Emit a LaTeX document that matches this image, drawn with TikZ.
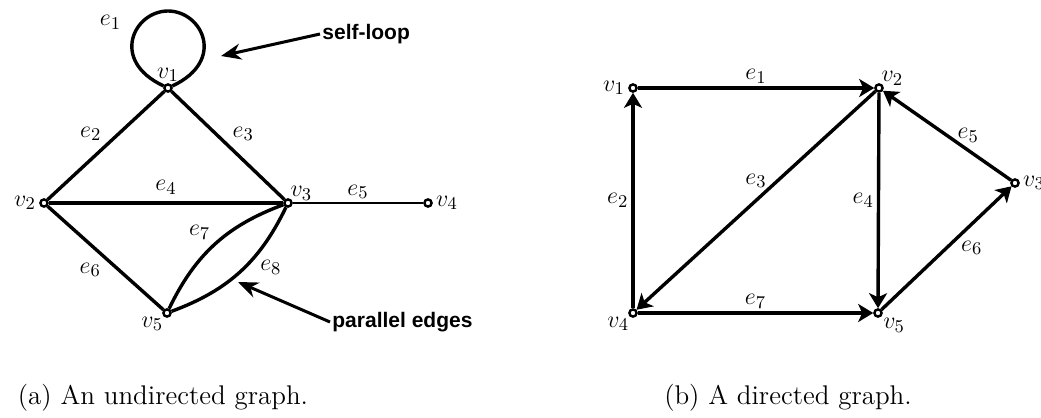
\documentclass[tikz,border=0pt]{standalone}
\usepackage{fontspec}
\newfontfamily\notefont{Liberation Sans}
\usetikzlibrary{arrows.meta, positioning}

\begin{document}
\begin{tikzpicture}[
    x=0.5pt, y=-0.5pt,
    vert/.style={circle, draw, line width=1.2pt, fill=white, inner sep=0pt, minimum size=3.6pt},
    edge/.style={line width=1.7pt},
    dedge/.style={edge, -{Stealth[length=7.5pt, width=9pt, inset=2pt]}},
    lab/.style={font=\fontsize{13}{15}\selectfont, inner sep=1.5pt},
    note/.style={font=\notefont\bfseries\fontsize{10.5}{12}\selectfont, inner sep=1pt},
    pointer/.style={line width=1.5pt, -{Stealth[length=10pt, width=8pt]}},
    caption/.style={font=\fontsize{13.5}{16}\selectfont},
]
\useasboundingbox (0,0) rectangle (1041,418);

% (a) undirected graph
\node[vert, label={[lab, label distance=-1pt]above:$v_1$}] (a1) at (168,88) {};
\node[vert, label={[lab]left:$v_2$}] (a2) at (44,203) {};
\node[vert, label={[lab, label distance=-3pt]above right:$v_3$}] (a3) at (288,203) {};
\node[vert, label={[lab]right:$v_4$}] (a4) at (428,203) {};
\node[vert, label={[lab, label distance=-2pt]below left:$v_5$}] (a5) at (167,313) {};
\coordinate (looptop) at (168,11);

\draw[edge] (a1) to[out=155, in=180, out distance=30pt, in distance=17pt] node[lab, pos=0.7, left=8pt] {$e_1$} (looptop)
  to[out=0, in=25, out distance=17pt, in distance=30pt] (a1);
\draw[edge] (a1) -- node[lab, above left] {$e_2$} (a2);
\draw[edge] (a1) -- node[lab, above right] {$e_3$} (a3);
\draw[edge] (a2) -- node[lab, above, yshift=2pt] {$e_4$} (a3);
\draw[edge, line width=1.3pt] (a3) -- node[lab, above] {$e_5$} (a4);
\draw[edge] (a2) -- node[lab, below left] {$e_6$} (a5);
\draw[edge] (a5) to[bend left=22] node[lab, above left] {$e_7$} (a3);
\draw[edge] (a5) to[bend right=22] node[lab, pos=0.65, below right] {$e_8$} (a3);

% annotations
\node[note, anchor=west] (selfnote) at (320,34) {self-loop};
\coordinate (selftip) at (221,56);
\draw[pointer] (selfnote.west) -- (selftip);
\node[note, anchor=west] (parnote) at (330,322) {parallel edges};
\coordinate (partip) at (238,282);
\draw[pointer] (parnote.west) -- (partip);

% (b) directed graph
\node[vert, label={[lab]left:$v_1$}] (b1) at (633,88) {};
\node[vert, label={[lab, label distance=-3pt]above right:$v_2$}] (b2) at (879,88) {};
\node[vert, label={[lab]right:$v_3$}] (b3) at (1015,183) {};
\node[vert, label={[lab, label distance=-2pt]below left:$v_4$}] (b4) at (633,313) {};
\node[vert, label={[lab, label distance=-1pt]below right:$v_5$}] (b5) at (878,313) {};

\draw[dedge] (b1) -- node[lab, above] {$e_1$} (b2);
\draw[dedge] (b4) -- node[lab, left] {$e_2$} (b1);
\draw[dedge] (b2) -- node[lab, above=4pt] {$e_3$} (b4);
\draw[dedge] (b2) -- node[lab, left] {$e_4$} (b5);
\draw[dedge] (b3) -- node[lab, right=3pt] {$e_5$} (b2);
\draw[dedge] (b5) -- node[lab, right=5pt] {$e_6$} (b3);
\draw[dedge] (b4) -- node[lab, above] {$e_7$} (b5);

% captions
\node[caption] (capa) at (163,398) {(a) An undirected graph.};
\node[caption] (capb) at (788,398) {(b) A directed graph.};

\end{tikzpicture}
\end{document}
